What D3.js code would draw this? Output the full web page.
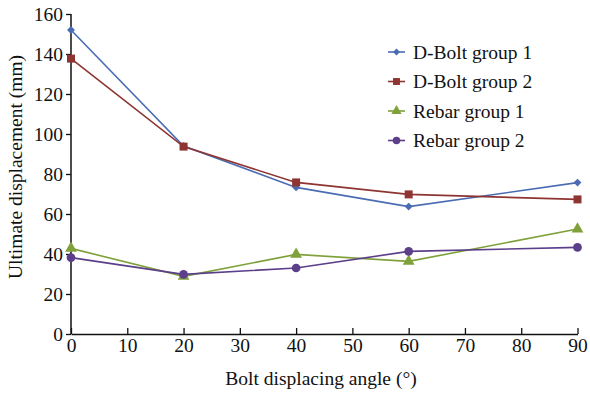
<!DOCTYPE html>
<html>
<head>
<meta charset="utf-8">
<script src="https://cdn.jsdelivr.net/npm/d3@7"></script>
<style>
  html, body { margin: 0; padding: 0; background: #fff; }
  svg { display: block; }
  text { font-family: "Liberation Serif", "Times New Roman", serif; fill: #111; }
</style>
</head>
<body>
<svg id="chart" width="590" height="395"></svg>
<script>
// Bolt displacing angle (degrees)
const angles = [0, 20, 40, 60, 90];

// Ultimate displacement (mm) per group
const dBolt1 = [152, 94, 73.3, 63.7, 75.7];
const dBolt2 = [137.7, 93.7, 75.8, 69.8, 67.3];
const rebar1 = [42.8, 28.8, 39.8, 36.3, 52.5];
const rebar2 = [38.2, 29.8, 33, 41.3, 43.3];

const seriesNames = ["D-Bolt group 1", "D-Bolt group 2", "Rebar group 1", "Rebar group 2"];
const seriesColors = ["#4a6cb3", "#8e3432", "#7fa03a", "#5b3f8a"];
const seriesSymbols = [d3.symbolDiamond2, d3.symbolSquare, d3.symbolTriangle, d3.symbolCircle];
const symbolSizes = [40, 64, 60, 60];

const xTicks = [0, 10, 20, 30, 40, 50, 60, 70, 80, 90];
const yTicks = [0, 20, 40, 60, 80, 100, 120, 140, 160];

const seriesValues = [dBolt1, dBolt2, rebar1, rebar2];

const FONT = "'Liberation Serif', 'Times New Roman', serif";
const FS = "19.5px";

const svg = d3.select("#chart");
const x = d3.scaleLinear().domain([0, 90]).range([71, 577.5]);
const y = d3.scaleLinear().domain([0, 160]).range([334, 14]);

// Axes
const yAxis = d3.axisLeft(y).tickValues(yTicks).tickSize(5).tickPadding(3);
const gy = svg.append("g").attr("transform", "translate(71,0)").call(yAxis);
gy.selectAll("text").attr("dy", "0.34em");

const xAxis = d3.axisBottom(x).tickValues(xTicks).tickSizeInner(-6).tickSizeOuter(0).tickPadding(4);
const gx = svg.append("g").attr("transform", "translate(0,334)").call(xAxis);

[gx, gy].forEach(g => {
  g.attr("font-family", null).attr("font-size", null);
  g.select(".domain").attr("stroke", "#111").attr("stroke-width", 1.5);
  g.selectAll(".tick line").attr("stroke", "#111").attr("stroke-width", 1.3);
  g.selectAll("text").style("font-family", FONT).style("font-size", FS).attr("fill", "#111");
});
gy.select(".domain").attr("d", "M0," + y(160) + "V" + y(0));

// Axis titles
svg.append("text")
  .attr("x", 321).attr("y", 385)
  .attr("text-anchor", "middle")
  .style("font-family", FONT).style("font-size", FS)
  .text("Bolt displacing angle (\u00b0)");

svg.append("text")
  .attr("transform", "translate(22," + 167 + ") rotate(-90)")
  .attr("text-anchor", "middle")
  .style("font-family", FONT).style("font-size", FS)
  .text("Ultimate displacement (mm)");

// Lines and markers
const line = d3.line().x((d, i) => x(angles[i])).y(d => y(d));

seriesValues.forEach((vals, s) => {
  svg.append("path")
    .datum(vals)
    .attr("d", line)
    .attr("fill", "none")
    .attr("stroke", seriesColors[s])
    .attr("stroke-width", 1.6);
});

seriesValues.forEach((vals, s) => {
  const sym = d3.symbol().type(seriesSymbols[s]).size(symbolSizes[s]);
  svg.append("g").selectAll("path")
    .data(vals)
    .join("path")
    .attr("d", sym)
    .attr("transform", (d, i) => "translate(" + x(angles[i]) + "," + y(d) + ")")
    .attr("fill", seriesColors[s]);
});

// Legend
const legend = svg.append("g").attr("transform", "translate(388,52)");
seriesNames.forEach((name, s) => {
  const row = legend.append("g").attr("transform", "translate(0," + (s * 29.5) + ")");
  row.append("line").attr("x1", 0).attr("x2", 17).attr("y1", 0).attr("y2", 0)
    .attr("stroke", seriesColors[s]).attr("stroke-width", 1.6);
  row.append("path")
    .attr("d", d3.symbol().type(seriesSymbols[s]).size(symbolSizes[s] * 0.75)())
    .attr("transform", "translate(8.5,0)")
    .attr("fill", seriesColors[s]);
  row.append("text").attr("x", 25).attr("y", 0).attr("dy", "0.35em")
    .style("font-family", FONT).style("font-size", FS).text(name);
});
</script>
</body>
</html>
